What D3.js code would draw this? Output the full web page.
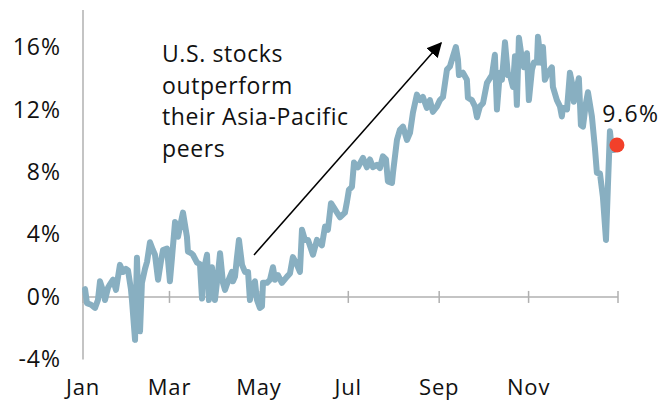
<!DOCTYPE html>
<html><head><meta charset="utf-8">
<script src="https://cdn.jsdelivr.net/npm/d3@7"></script>
<style>html,body{margin:0;padding:0;background:#fff;}svg{display:block;font-family:"Open Sans",Lato,sans-serif;}</style>
</head><body>
<svg id="c" width="663" height="404"></svg>
<script>
// Day of year (0 = Jan 1) for each observation
const dayOfYear = [1.4,2.7,5.5,8.2,10.2,11.6,13.6,15.0,17.1,18.4,20.5,22.5,25.2,27.3,29.3,30.7,32.7,33.4,35.5,36.8,38.2,38.9,40.2,42.3,43.7,45.7,47.7,49.1,51.2,53.2,54.6,57.3,59.3,60.7,62.8,64.8,66.2,68.2,70.9,71.6,73.7,75.0,77.8,79.8,81.2,81.9,84.6,85.9,88.0,90.0,92.1,93.5,95.5,96.9,98.9,101.6,102.3,103.7,105.0,106.4,108.5,110.5,112.6,113.9,115.3,117.3,118.7,120.7,122.1,122.8,125.5,127.6,129.6,131.0,133.0,135.7,139.2,141.2,143.2,146.0,148.0,149.4,151.4,153.5,156.9,159.6,163.0,165.1,167.1,169.2,171.9,175.3,178.7,180.1,181.4,183.5,184.9,187.6,191.0,193.7,195.8,197.8,200.5,202.6,204.6,206.7,208.0,210.8,211.5,214.2,216.2,218.3,221.0,223.1,225.1,227.8,229.9,231.9,234.6,236.7,238.7,241.5,243.5,245.6,248.3,250.3,252.4,254.4,255.8,256.5,259.2,261.9,262.6,265.3,267.4,268.8,270.8,272.9,275.6,277.6,279.0,281.0,282.4,284.4,285.8,287.9,289.9,291.3,293.3,294.7,296.0,297.4,299.5,300.8,302.9,304.2,306.3,307.6,309.7,310.4,312.4,313.8,315.1,317.2,319.9,320.6,323.3,325.4,326.7,327.4,330.2,332.2,333.6,334.9,337.0,338.3,339.7,341.1,343.1,344.5,347.2,349.2,350.6,352.7,354.7,356.8,358.1,359.5,360.8,362.2,363.6];
// Relative performance, %
const perf = [0.5,-0.4,-0.5,-0.7,-0.2,1.0,0.4,-0.2,0.6,0.8,1.1,0.45,2.05,1.6,1.8,1.7,0.5,-0.2,-2.75,2.5,-1.5,-2.2,0.9,1.8,2.25,3.5,3.0,2.7,1.1,2.3,3.0,3.1,1.0,2.5,4.8,3.85,4.5,5.4,3.85,2.9,2.8,2.7,2.2,2.1,-0.1,1.5,2.7,-0.2,1.9,-0.2,1.5,2.8,0.9,0.45,1.0,1.6,1.0,1.3,2.5,3.65,2.05,1.6,1.6,-0.2,0.6,1.0,-0.2,-0.7,-0.6,0.9,0.9,1.1,1.9,1.1,1.4,0.9,1.3,1.5,2.55,2.05,1.6,4.3,3.65,3.65,2.7,3.65,3.3,4.5,4.3,6.0,5.6,5.1,5.4,6.1,6.85,7.05,8.6,8.3,8.9,8.3,8.8,8.3,8.45,8.25,9.0,8.8,7.4,7.3,7.95,10.05,10.7,10.9,10.05,10.5,11.8,12.95,12.6,12.8,12.1,12.6,11.85,12.2,12.6,12.8,14.55,14.75,15.4,16.0,15.2,14.2,14.35,13.9,12.75,12.6,12.2,11.5,12.2,12.4,13.7,14.0,14.2,15.5,12.0,14.35,13.9,16.3,14.2,14.2,13.45,15.4,12.3,16.6,15.2,14.7,15.6,12.6,14.55,15.0,15.0,16.65,15.0,16.0,13.9,14.35,14.7,13.45,12.6,12.2,11.55,12.1,12.0,14.35,13.7,12.5,13.45,14.0,11.0,10.9,12.4,13.1,11.55,9.6,7.95,7.9,6.4,3.65,7.05,10.6,9.4,9.4,9.6];
const yTicks = [-4, 0, 4, 8, 12, 16];
const monthTicks = ["Jan","Mar","May","Jul","Sep","Nov"];
const annotationLines = ["U.S. stocks","outperform","their Asia-Pacific","peers"];
const lastLabel = "9.6%";

const svg = d3.select("#c");
const start = new Date(2013,0,1), end = new Date(2014,0,1);
const x = d3.scaleTime().domain([start,end]).range([83,618]);
const y = d3.scaleLinear().domain([-4,16]).range([359.4,47]);
const data = dayOfYear.map((d,i)=>({date:new Date(start.getTime()+d*86400000), v:perf[i]}));

const grey = "#b0b0b0";
svg.append("line").attr("x1",83).attr("x2",83).attr("y1",10).attr("y2",y(-4)).attr("stroke",grey).attr("stroke-width",1.5);
svg.append("g").selectAll("text").data(yTicks).join("text")
  .attr("x",61).attr("y",d=>y(d)).attr("dy","0.35em").attr("text-anchor","end")
  .attr("font-size",23).attr("letter-spacing",1).attr("fill","#111").text(d=>d+"%");

const mDates = d3.timeMonth.range(start, d3.timeDay.offset(end,1), 2);
svg.append("line").attr("x1",83).attr("x2",618).attr("y1",y(0)).attr("y2",y(0)).attr("stroke",grey).attr("stroke-width",1.5);
svg.append("g").selectAll("line").data(mDates).join("line")
  .attr("x1",d=>x(d)).attr("x2",d=>x(d)).attr("y1",y(0)-6).attr("y2",y(0)+6)
  .attr("stroke",grey).attr("stroke-width",1.5);
svg.append("g").selectAll("text").data(mDates.slice(0,6)).join("text")
  .attr("x",d=>x(d)).attr("y",395).attr("text-anchor","middle").attr("font-size",22).attr("letter-spacing",0.8).attr("fill","#111")
  .text((d,i)=>monthTicks[i]);

const line = d3.line().x(d=>x(d.date)).y(d=>y(d.v)).curve(d3.curveLinear);
svg.append("path").datum(data).attr("d",line).attr("fill","none")
  .attr("stroke","#88afc1").attr("stroke-width",6).attr("stroke-linejoin","round").attr("stroke-linecap","round");

const last = data[data.length-1];
svg.append("circle").attr("cx",x(last.date)+1).attr("cy",y(last.v)-2).attr("r",7.5).attr("fill","#f2402a");
svg.append("text").attr("x",x(last.date)+15).attr("y",y(last.v)-25).attr("text-anchor","middle")
  .attr("font-size",23).attr("letter-spacing",1.5).attr("fill","#111").text(lastLabel);

svg.append("defs").append("marker").attr("id","ah").attr("viewBox","0 0 10 10").attr("refX",9).attr("refY",5)
  .attr("markerWidth",15).attr("markerHeight",15).attr("markerUnits","userSpaceOnUse").attr("orient","auto")
  .append("path").attr("d","M0,0L10,5L0,10Z").attr("fill","#000");
svg.append("line").attr("x1",254).attr("y1",255).attr("x2",441).attr("y2",43)
  .attr("stroke","#000").attr("stroke-width",1.5).attr("marker-end","url(#ah)");
svg.append("g").selectAll("text").data(annotationLines).join("text")
  .attr("x",162).attr("y",(d,i)=>62+i*31.5).attr("font-size",23).attr("letter-spacing",0.6).attr("fill","#111").text(d=>d);
</script>
</body></html>
